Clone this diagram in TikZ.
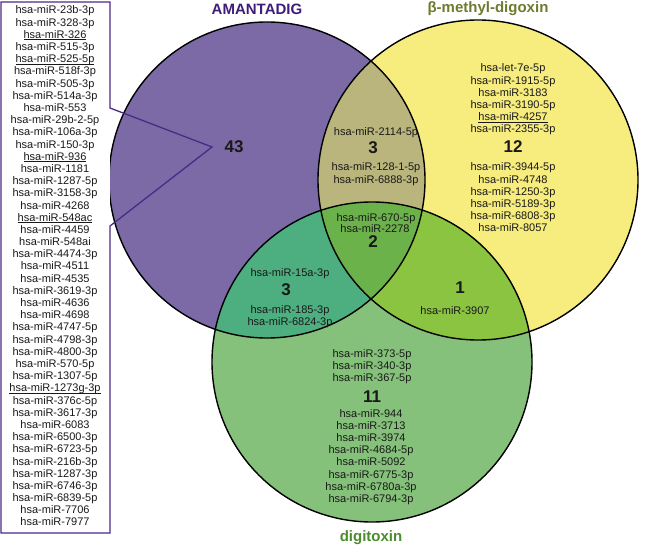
\documentclass[tikz,border=0pt]{standalone}
\usepackage{fontspec}
\setmainfont{Liberation Sans}
\definecolor{cP}{HTML}{7B6AA6}
\definecolor{cY}{HTML}{F7EC7E}
\definecolor{cG}{HTML}{85C17A}
\definecolor{cPY}{HTML}{B9B57D}
\definecolor{cPG}{HTML}{4DAF80}
\definecolor{cYG}{HTML}{8BC441}
\definecolor{cPYG}{HTML}{6CB24A}
\definecolor{cTitleP}{HTML}{3D1C7A}
\definecolor{cTitleY}{HTML}{6E7B2E}
\definecolor{cTitleG}{HTML}{4C8C2F}
\definecolor{cBox}{HTML}{4B2A86}
\newcommand{\myul}[1]{\setbox0\hbox{#1}\rlap{\rule[-1.6pt]{\wd0}{0.6pt}}\box0}
\tikzset{
  lbl/.style={font=\fontsize{11}{12}\selectfont, inner sep=0pt, anchor=base, text=black!90},
  bignum/.style={font=\fontsize{17}{17}\selectfont\bfseries, inner sep=0pt, text=black!90},
  ttl/.style={font=\fontsize{15}{15}\selectfont\bfseries, inner sep=0pt},
  ring/.style={draw=black, line width=1.4pt},
  boxline/.style={draw=cBox, line width=1.3pt, line join=miter}
}
\begin{document}
\begin{tikzpicture}[x=1pt,y=-1pt]
\useasboundingbox (0,0) rectangle (650,548);
\coordinate (P) at (267,180);
\coordinate (Y) at (478,180);
\coordinate (G) at (372,362);
% fills
\fill[cP] (P) circle[radius=158pt];
\fill[cY] (Y) circle[radius=160pt];
\fill[cG] (G) circle[radius=160pt];
\begin{scope}\clip (P) circle[radius=158pt]; \fill[cPY] (Y) circle[radius=160pt];\end{scope}
\begin{scope}\clip (P) circle[radius=158pt]; \fill[cPG] (G) circle[radius=160pt];\end{scope}
\begin{scope}\clip (Y) circle[radius=160pt]; \fill[cYG] (G) circle[radius=160pt];\end{scope}
\begin{scope}\clip (P) circle[radius=158pt]; \clip (Y) circle[radius=160pt]; \fill[cPYG] (G) circle[radius=160pt];\end{scope}
% outlines
\draw[ring] (P) circle[radius=158pt];
\draw[ring] (Y) circle[radius=160pt];
\draw[ring] (G) circle[radius=160pt];
% box with wedge
\coordinate (bTL) at (1,2);
\coordinate (bTR) at (110,2);
\coordinate (w1) at (110,108);
\coordinate (wtip) at (212,147);
\coordinate (w2) at (110,226);
\coordinate (bBR) at (110,533);
\coordinate (bBL) at (1,533);
\fill[white] (bTL) rectangle (bBR);
\draw[boxline] (bTL) -- (bTR) -- (w1) -- (wtip) -- (w2) -- (bBR) -- (bBL) -- cycle;
% box list
\foreach \t [count=\i] in {hsa-miR-23b-3p,hsa-miR-328-3p,{\myul{hsa-miR-326}},hsa-miR-515-3p,{\myul{hsa-miR-525-5p}},hsa-miR-518f-3p,hsa-miR-505-3p,hsa-miR-514a-3p,hsa-miR-553,hsa-miR-29b-2-5p,hsa-miR-106a-3p,hsa-miR-150-3p,{\myul{hsa-miR-936}},hsa-miR-1181,hsa-miR-1287-5p,hsa-miR-3158-3p,hsa-miR-4268,{\myul{hsa-miR-548ac}},hsa-miR-4459,hsa-miR-548ai,hsa-miR-4474-3p,hsa-miR-4511,hsa-miR-4535,hsa-miR-3619-3p,hsa-miR-4636,hsa-miR-4698,hsa-miR-4747-5p,hsa-miR-4798-3p,hsa-miR-4800-3p,hsa-miR-570-5p,hsa-miR-1307-5p,{\myul{hsa-miR-1273g-3p}},hsa-miR-376c-5p,hsa-miR-3617-3p,hsa-miR-6083,hsa-miR-6500-3p,hsa-miR-6723-5p,hsa-miR-216b-3p,hsa-miR-1287-3p,hsa-miR-6746-3p,hsa-miR-6839-5p,hsa-miR-7706,hsa-miR-7977}
  \node[lbl] (b\i) at (55,{14+12.19*(\i-1)}) {\t};
% titles
\node[ttl, text=cTitleP] (tP) at (257,9) {AMANTADIG};
\node[ttl, text=cTitleY] (tY) at (488,9) {β-methyl-digoxin};
\node[ttl, text=cTitleG] (tG) at (371,538) {digitoxin};
% purple only
\node[bignum] (n43) at (234,147) {43};
% purple-yellow
\node[lbl] (py1) at (376,136) {hsa-miR-2114-5p};
\node[bignum] (n3a) at (373,148) {3};
\node[lbl] (py2) at (376,171) {hsa-miR-128-1-5p};
\node[lbl] (py3) at (376,183) {hsa-miR-6888-3p};
% centre
\node[lbl] (c1) at (376,221) {hsa-miR-670-5p};
\node[lbl] (c2) at (375,232) {hsa-miR-2278};
\node[bignum] (n2) at (373,242) {2};
% yellow only
\foreach \t [count=\i] in {hsa-let-7e-5p,hsa-miR-1915-5p,hsa-miR-3183,hsa-miR-3190-5p,{\myul{hsa-miR-4257}},hsa-miR-2355-3p}
  \node[lbl] (ya\i) at (513,{72+12.2*(\i-1)}) {\t};
\node[bignum] (n12) at (513,147) {12};
\foreach \t [count=\i] in {hsa-miR-3944-5p,hsa-miR-4748,hsa-miR-1250-3p,hsa-miR-5189-3p,hsa-miR-6808-3p,hsa-miR-8057}
  \node[lbl] (yb\i) at (513,{171+12.1*(\i-1)}) {\t};
% purple-green
\node[lbl] (pg1) at (290,276) {hsa-miR-15a-3p};
\node[bignum] (n3b) at (286,290) {3};
\node[lbl] (pg2) at (290,313) {hsa-miR-185-3p};
\node[lbl] (pg3) at (290,325) {hsa-miR-6824-3p};
% yellow-green
\node[bignum] (n1) at (460,288) {1};
\node[lbl] (yg1) at (455,314) {hsa-miR-3907};
% green only
\foreach \t [count=\i] in {hsa-miR-373-5p,hsa-miR-340-3p,hsa-miR-367-5p}
  \node[lbl] (ga\i) at (372,{357+12*(\i-1)}) {\t};
\node[bignum] (n11) at (372,397) {11};
\foreach \t [count=\i] in {hsa-miR-944,hsa-miR-3713,hsa-miR-3974,hsa-miR-4684-5p,hsa-miR-5092,hsa-miR-6775-3p,hsa-miR-6780a-3p,hsa-miR-6794-3p}
  \node[lbl] (gb\i) at (371,{417+12.2*(\i-1)}) {\t};
\end{tikzpicture}
\end{document}
